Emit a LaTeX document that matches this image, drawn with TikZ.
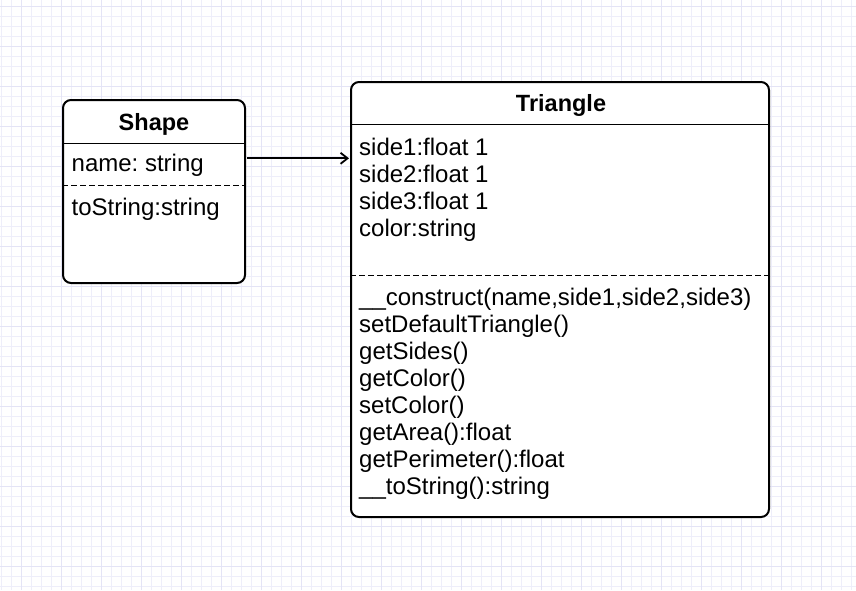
\documentclass[tikz,border=0pt]{standalone}
\usepackage{fontspec}
\setmainfont{Liberation Sans}
\usetikzlibrary{arrows.meta}
\definecolor{gridminor}{RGB}{238,238,250}
\definecolor{gridmajor}{RGB}{228,228,246}
\frenchspacing
\tikzset{
  classbox/.style={draw=black, line width=2pt, rounded corners=8pt, fill=white, inner sep=0pt},
  member/.style={anchor=base west, inner sep=0pt, font=\fontsize{24}{27}\selectfont},
  title/.style={anchor=base, inner sep=0pt, font=\fontsize{23.5}{27}\selectfont\bfseries},
  sepline/.style={draw=black, line width=1pt},
  dashsep/.style={draw=black, line width=1pt, dash pattern=on 6pt off 3pt},
  assoc/.style={draw=black, line width=1.8pt, -{Straight Barb[length=7pt,width=11pt,line width=1.8pt]}}
}
\begin{document}
\begin{tikzpicture}[x=1pt,y=-1pt]
\useasboundingbox (0,0) rectangle (856,590);
\fill[white] (0,0) rectangle (856,590);
% grid
\foreach \i in {0,...,85} {
  \draw[gridminor, line width=0.8pt] ({1.7+10*\i},0) -- ({1.7+10*\i},590);
}
\foreach \j in {0,...,58} {
  \draw[gridminor, line width=0.8pt] (0,{6+10*\j}) -- (856,{6+10*\j});
}
\foreach \i in {0,...,21} {
  \draw[gridmajor, line width=0.8pt] ({21.7+40*\i},0) -- ({21.7+40*\i},590);
}
\foreach \j in {0,...,14} {
  \draw[gridmajor, line width=0.8pt] (0,{6+40*\j}) -- (856,{6+40*\j});
}

% Shape class
\node[classbox, minimum width=182pt, minimum height=183pt] (shapebox) at (154,191.5) {};
\coordinate (shh) at (0,143.3);
\coordinate (shd) at (0,185.7);
\draw[sepline] (shapebox.west |- shh) -- (shapebox.east |- shh);
\draw[dashsep] (shapebox.west |- shd) -- (shapebox.east |- shd);
\node[title] (shapetitle) at (154,130) {Shape};
\node[member] (shname) at (71.5,171) {name: string};
\node[member] (shtostr) at (71.5,215) {toString:string};

% Triangle class
\node[classbox, minimum width=418pt, minimum height=435pt] (tribox) at (560,299.5) {};
\coordinate (trh) at (0,124.5);
\coordinate (trd) at (0,275);
\draw[sepline] (tribox.west |- trh) -- (tribox.east |- trh);
\draw[dashsep] (tribox.west |- trd) -- (tribox.east |- trd);
\node[title] (trititle) at (561,111) {Triangle};
\node[member] (a1) at (359,155) {side1:float 1};
\node[member] (a2) at (359,182) {side2:float 1};
\node[member] (a3) at (359,209) {side3:float 1};
\node[member] (a4) at (359,236) {color:string};
\node[member] (m1) at (359,305) {\_\_construct(name,side1,side2,side3)};
\node[member] (m2) at (359,332) {setDefaultTriangle()};
\node[member] (m3) at (359,359) {getSides()};
\node[member] (m4) at (359,386) {getColor()};
\node[member] (m5) at (359,413) {setColor()};
\node[member] (m6) at (359,440) {getArea():float};
\node[member] (m7) at (359,467) {getPerimeter():float};
\node[member] (m8) at (359,494) {\_\_toString():string};

% association arrow
\coordinate (arrs) at (247,158.3);
\coordinate (arre) at (349,158.3);
\draw[assoc] (arrs) -- (arre);
\end{tikzpicture}
\end{document}
